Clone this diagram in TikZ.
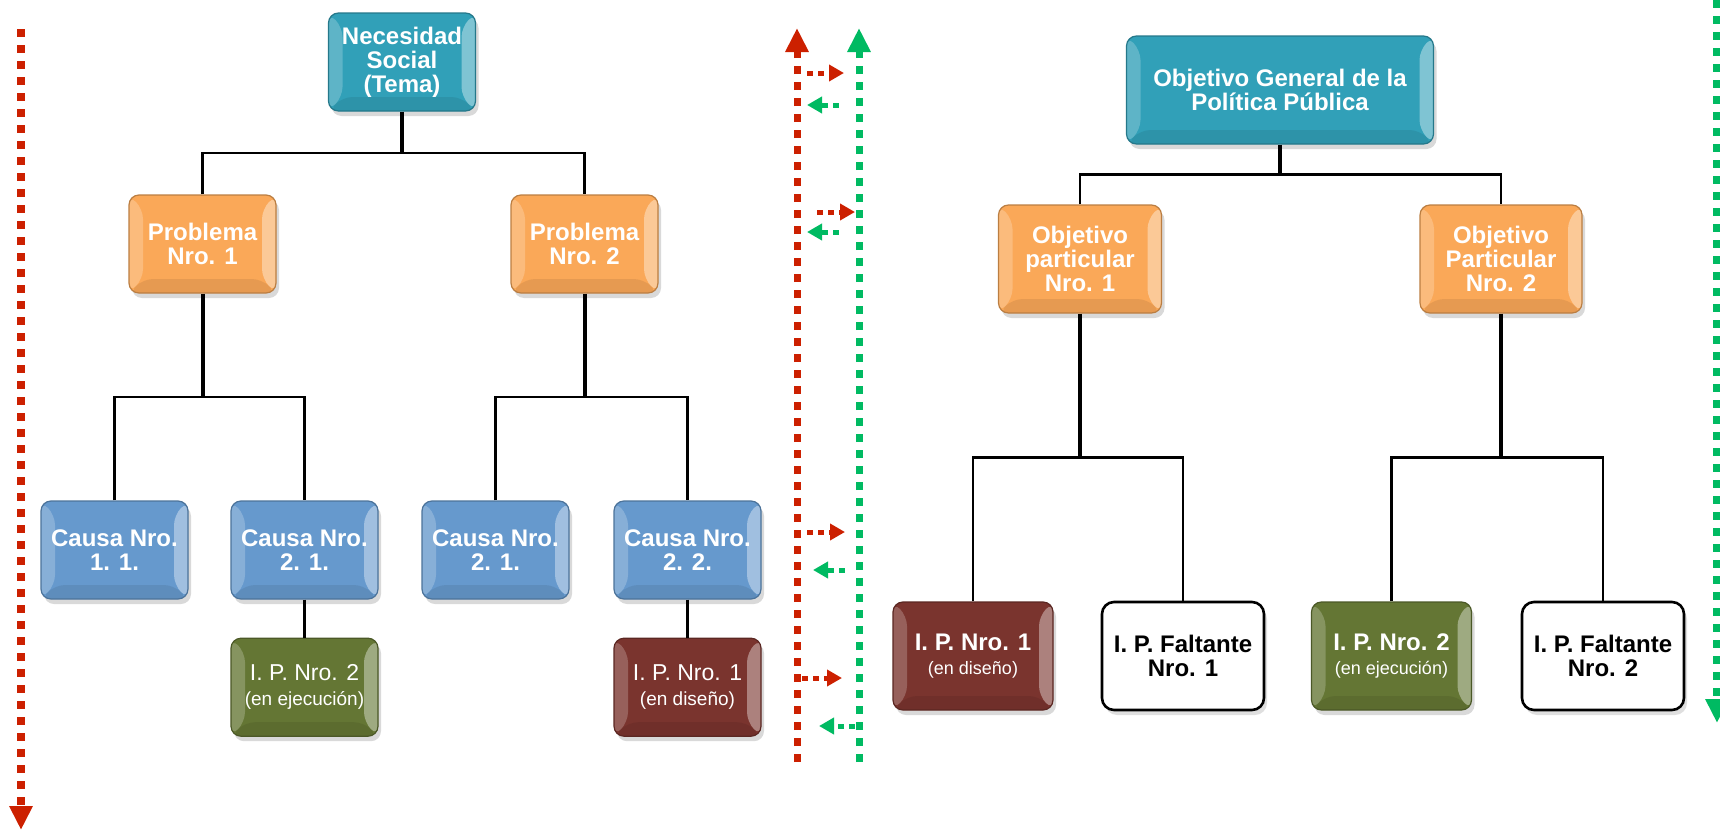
\documentclass[tikz,border=0pt]{standalone}
\usepackage{fontspec}
\setmainfont{Liberation Sans}
\usetikzlibrary{arrows.meta,positioning,calc,shadows}
\definecolor{tealbox}{RGB}{49,160,184}
\definecolor{orangebox}{RGB}{250,168,88}
\definecolor{bluebox}{RGB}{102,153,205}
\definecolor{olivebox}{RGB}{100,118,52}
\definecolor{maroonbox}{RGB}{122,52,46}
\definecolor{redarr}{RGB}{204,32,0}
\definecolor{greenarr}{RGB}{0,186,98}

\begin{document}
\begin{tikzpicture}[
  x=0.5pt, y=-0.5pt,
  bevel/.style={path picture={
    \fill[white,opacity=.38] (path picture bounding box.north east) -- (path picture bounding box.south east)
      -- ([shift={(-7pt,7pt)}]path picture bounding box.south east) -- ([shift={(-7pt,-7pt)}]path picture bounding box.north east) -- cycle;
    \fill[white,opacity=.22] (path picture bounding box.north west) -- (path picture bounding box.south west)
      -- ([shift={(7pt,7pt)}]path picture bounding box.south west) -- ([shift={(7pt,-7pt)}]path picture bounding box.north west) -- cycle;
    \fill[black,opacity=.08] (path picture bounding box.south west) -- (path picture bounding box.south east)
      -- ([shift={(-7pt,7pt)}]path picture bounding box.south east) -- ([shift={(7pt,7pt)}]path picture bounding box.south west) -- cycle;
  }},
  box/.style={draw=#1!75!black, fill=#1, line width=0.6pt, rounded corners=5pt, align=center, inner sep=0pt,
              minimum width=73.5pt, minimum height=49pt, text=white,
              font=\fontsize{12}{12}\selectfont\bfseries,
              drop shadow={opacity=.3,shadow xshift=1.5pt,shadow yshift=-2.5pt}, bevel},
  wide/.style={minimum width=80pt, minimum height=54pt},
  plain/.style={font=\fontsize{11.5}{12.5}\selectfont},
  missing/.style={draw=black, fill=white, line width=1.3pt, rounded corners=6pt, align=center, inner sep=0pt,
              minimum width=81pt, minimum height=54pt, text=black,
              font=\fontsize{12}{12}\selectfont\bfseries,
              drop shadow={opacity=.25,shadow xshift=1.5pt,shadow yshift=-2.5pt}},
  trunk/.style={line width=2pt},
  branch/.style={line width=1.2pt},
  bigdash/.style={draw=#1, line width=4pt, dash pattern=on 4pt off 4pt, -{Triangle[length=12pt,width=11pt]}},
  smalldash/.style={draw=#1, line width=2.5pt, dash pattern=on 3pt off 2.5pt, -{Triangle[length=7.5pt,width=8pt]}}
]
\useasboundingbox (0,0) rectangle (1720,830);

% arbol de problemas
\node[box=tealbox] (nec) at (402,62) {Necesidad\\Social\\(Tema)};
\node[box=orangebox] (p1) at (202.5,244) {Problema\\Nro. 1};
\node[box=orangebox] (p2) at (584.5,244) {Problema\\Nro. 2};
\node[box=bluebox] (c11) at (114.5,550) {Causa Nro.\\1. 1.};
\node[box=bluebox] (c21) at (304.5,550) {Causa Nro.\\2. 1.};
\node[box=bluebox] (c21b) at (495.5,550) {Causa Nro.\\2. 1.};
\node[box=bluebox] (c22) at (687.5,550) {Causa Nro.\\2. 2.};
\node[box=olivebox, plain, below=19pt of c21] (ipa) {I. P. Nro. 2\\{\fontsize{9.5}{10}\selectfont (en ejecución)}};
\node[box=maroonbox, plain, below=19pt of c22] (ipb) {I. P. Nro. 1\\{\fontsize{9.5}{10}\selectfont (en diseño)}};

\coordinate (bar1) at ($(nec.south)!.5!(p1.north)$);
\coordinate (bar2) at ($(p1.south)!.5!(c11.north)$);
\coordinate (bar3) at ($(p2.south)!.5!(c21b.north)$);
\draw[trunk] (nec.south) -- (nec.south |- bar1);
\draw[branch] (p1.north) |- (bar1) -| (p2.north);
\draw[trunk] (p1.south) -- (p1.south |- bar2);
\draw[branch] (c11.north) |- (bar2) -| (c21.north);
\draw[trunk] (p2.south) -- (p2.south |- bar3);
\draw[branch] (c21b.north) |- (bar3) -| (c22.north);
\draw[branch] (c21) -- (ipa);
\draw[branch] (c22) -- (ipb);

% arbol de objetivos
\node[box=tealbox, minimum width=153.5pt, minimum height=54pt] (gen) at (1280,90) {Objetivo General de la\\Política Pública};
\node[box=orangebox, wide, minimum width=81.5pt] (op1) at (1080,259) {Objetivo\\particular\\Nro. 1};
\node[box=orangebox, wide, minimum width=81pt] (op2) at (1501,259) {Objetivo\\Particular\\Nro. 2};
\node[box=maroonbox, wide] (ipc) at (973,656) {I. P. Nro. 1\\{\mdseries\fontsize{9}{10}\selectfont (en diseño)}};
\node[missing] (fal1) at (1183,656) {I. P. Faltante\\Nro. 1};
\node[box=olivebox, wide] (ipd) at (1391.5,656) {I. P. Nro. 2\\{\mdseries\fontsize{9}{10}\selectfont (en ejecución)}};
\node[missing] (fal2) at (1603,656) {I. P. Faltante\\Nro. 2};

\coordinate (bar4) at ($(gen.south)!.5!(op1.north)$);
\coordinate (bar5) at ($(op1.south)!.5!(ipc.north)$);
\coordinate (bar6) at ($(op2.south)!.5!(ipd.north)$);
\draw[trunk] (gen.south) -- (gen.south |- bar4);
\draw[branch] (op1.north) |- (bar4) -| (op2.north);
\draw[trunk] (op1.south) -- (op1.south |- bar5);
\draw[branch] (ipc.north) |- (bar5) -| (fal1.north);
\draw[trunk] (op2.south) -- (op2.south |- bar6);
\draw[branch] (ipd.north) |- (bar6) -| (fal2.north);

% flechas punteadas
\coordinate (lefttop) at (21,29);
\coordinate (leftbot) at (21,830);
\coordinate (righttop) at (1717,0);
\coordinate (rightbot) at (1717,723);
\coordinate (redbot) at (797,762);
\coordinate (redtop) at (797,28);
\coordinate (greenbot) at (859,762);
\coordinate (greentop) at (859,28);
\draw[bigdash=redarr] (lefttop) -- (leftbot);
\draw[bigdash=greenarr] (righttop) -- (rightbot);
\draw[bigdash=redarr, line width=3.5pt] (redbot) -- (redtop);
\draw[bigdash=greenarr, line width=3.5pt] (greenbot) -- (greentop);

\foreach \ya/\xa/\xb in {73/807/844, 212/817/855, 532/807/845, 678/802/842}
  \draw[smalldash=redarr] (\xa,\ya) -- (\xb,\ya);
\foreach \ya/\xa/\xb in {105/839/807, 232/839/807, 570/845/813, 726/855/819}
  \draw[smalldash=greenarr] (\xa,\ya) -- (\xb,\ya);
\end{tikzpicture}
\end{document}
